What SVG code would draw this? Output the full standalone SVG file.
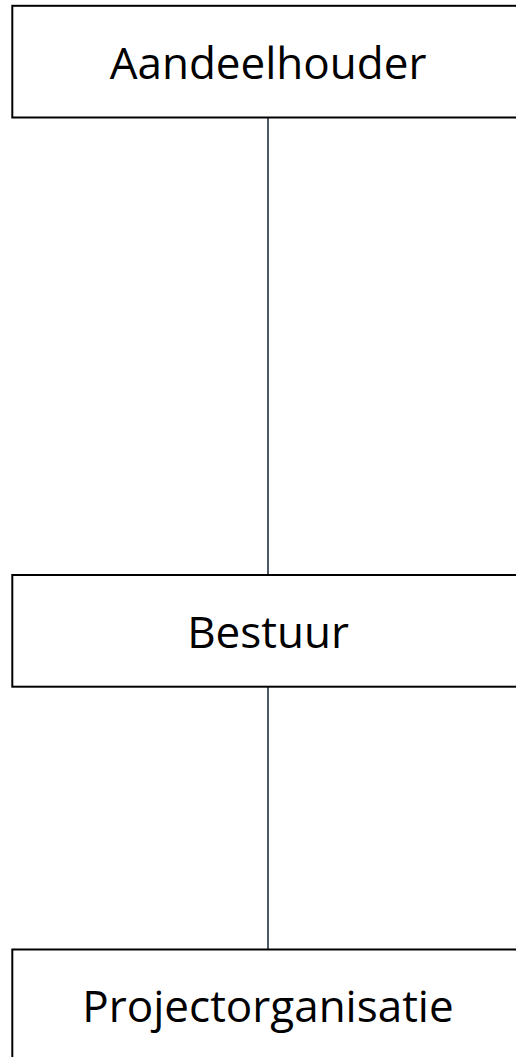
<svg xmlns="http://www.w3.org/2000/svg" width="516" height="1057" viewBox="0 0 516 1057">
<style>
.box{fill:#ffffff;stroke:#000000;stroke-width:2}
.lbl{font-family:"Open Sans","Liberation Sans",sans-serif;font-size:44px;fill:#000000;text-anchor:middle}
.conn{stroke:#3a4856;stroke-width:1.8;fill:none}
</style>
<rect width="516" height="1057" fill="#ffffff"/>
<g id="connectors">
<line class="conn" x1="268" y1="117.5" x2="268" y2="575"/>
<line class="conn" x1="268" y1="686.5" x2="268" y2="949.5"/>
</g>
<g id="node-aandeelhouder">
<rect class="box" x="12.3" y="5.8" width="520" height="111.7"/>
<text class="lbl" x="268" y="79">Aandeelhouder</text>
</g>
<g id="node-bestuur">
<rect class="box" x="12.3" y="575" width="520" height="111.7"/>
<text class="lbl" x="268" y="648">Bestuur</text>
</g>
<g id="node-projectorganisatie">
<rect class="box" x="12.3" y="949.5" width="520" height="120"/>
<text class="lbl" x="268" y="1022">Projectorganisatie</text>
</g>
</svg>
